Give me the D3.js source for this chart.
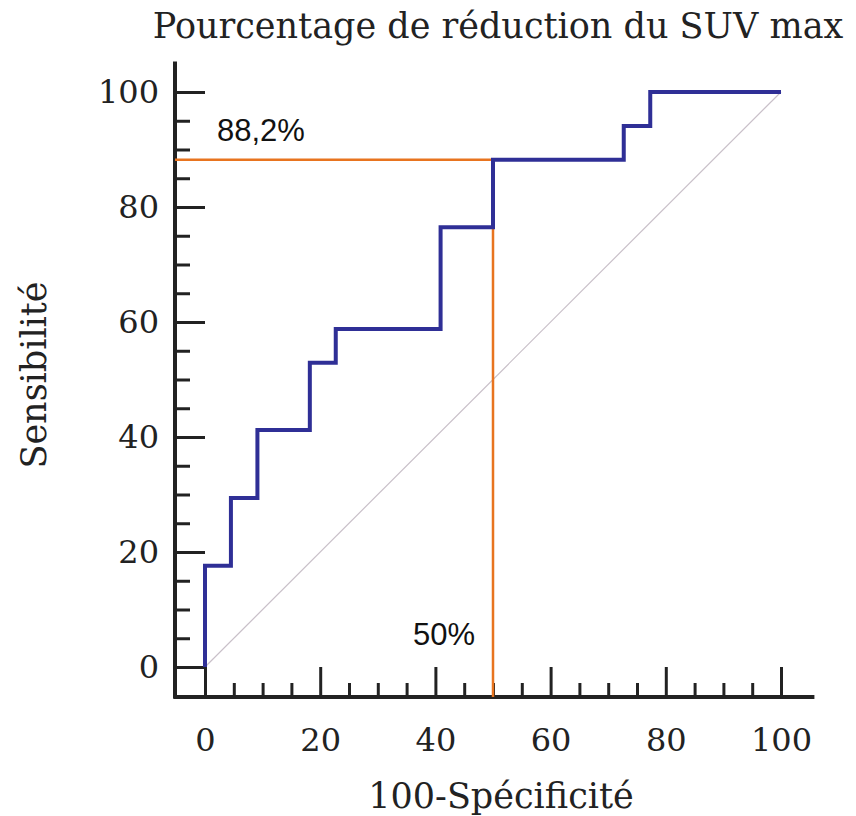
<!DOCTYPE html>
<html>
<head>
<meta charset="utf-8">
<script src="https://cdn.jsdelivr.net/npm/d3@7"></script>
<style>
  body { margin: 0; background: #fff; }
  .roc { fill: none; stroke: #2f2f96; stroke-width: 4px; stroke-linejoin: miter; }
  .diag { stroke: #c9c0c9; stroke-width: 1.2px; }
  .cut { stroke: #e8741f; stroke-width: 2.5px; fill: none; }
  .tick text { font-family: "DejaVu Serif", serif; font-size: 32px; fill: #222; }
  .tick line { stroke: #222; stroke-width: 3px; }
</style>
</head>
<body>
<script>
// points de la courbe ROC (100-spécificité, sensibilité)
var fpr  = [0, 0,    4.5,  4.5,  9.1,  9.1,  18.2, 18.2, 22.7, 22.7, 40.9, 40.9, 50,   50,   72.7, 72.7, 77.3, 77.3, 100];
var sens = [0, 17.6, 17.6, 29.4, 29.4, 41.2, 41.2, 52.9, 52.9, 58.8, 58.8, 76.5, 76.5, 88.2, 88.2, 94.1, 94.1, 100,  100];
var majorTicks = [0, 20, 40, 60, 80, 100];
var minorTicks = [5, 10, 15, 25, 30, 35, 45, 50, 55, 65, 70, 75, 85, 90, 95];
var cutX = 50, cutY = 88.2;
var labelSens = "88,2%", labelSpec = "50%";

var W = 856, H = 816;
var x = d3.scaleLinear().domain([0, 100]).range([205, 781]);
var y = d3.scaleLinear().domain([0, 100]).range([667, 92]);
var off = 30; // décalage des axes

var svg = d3.select("body").append("svg").attr("width", W).attr("height", H);

var axX = y(0) + off, axY = x(0) - off;

// diagonale
svg.append("line").attr("class", "diag")
  .attr("x1", x(0)).attr("y1", y(0)).attr("x2", x(100)).attr("y2", y(100));

// axe y
var gy = svg.append("g").attr("transform", "translate(" + axY + ",0)");
gy.call(d3.axisLeft(y).tickValues(minorTicks).tickSize(-15).tickFormat(""));
gy.call(function(g){ g.select(".domain").remove(); });
var gy2 = svg.append("g").attr("transform", "translate(" + axY + ",0)");
gy2.call(d3.axisLeft(y).tickValues(majorTicks).tickSize(-off).tickPadding(16));
gy2.select(".domain").remove();
gy2.selectAll(".tick text").attr("dy", "0.34em");

// axe x
var gx = svg.append("g").attr("transform", "translate(0," + axX + ")");
gx.call(d3.axisBottom(x).tickValues(minorTicks).tickSize(-14).tickFormat(""));
gx.select(".domain").remove();
var gx2 = svg.append("g").attr("transform", "translate(0," + axX + ")");
gx2.call(d3.axisBottom(x).tickValues(majorTicks).tickSize(-off));
gx2.select(".domain").remove();
gx2.selectAll(".tick text").attr("dy", "0").attr("y", 54);

// lignes des axes
svg.append("line").attr("x1", axY).attr("x2", axY).attr("y1", y(105.3)).attr("y2", axX + 1.5)
  .attr("stroke", "#222").attr("stroke-width", 4);
svg.append("line").attr("x1", axY - 1.5).attr("x2", x(105.8)).attr("y1", axX).attr("y2", axX)
  .attr("stroke", "#222").attr("stroke-width", 4);

// seuil
svg.append("path").attr("class", "cut")
  .attr("d", "M" + axY + "," + y(cutY) + "H" + x(cutX) + "V" + axX);

// courbe ROC
var line = d3.line().x(function(d, i){ return x(fpr[i]); }).y(function(d, i){ return y(sens[i]); });
svg.append("path").datum(fpr).attr("class", "roc").attr("d", line);

// annotations
svg.append("text").attr("x", 217).attr("y", y(cutY) - 19)
  .attr("font-family", "Liberation Sans, Arial, sans-serif").attr("font-size", 31).attr("fill", "#111")
  .text(labelSens);
svg.append("text").attr("x", x(cutX) - 18).attr("y", 645).attr("text-anchor", "end")
  .attr("font-family", "Liberation Sans, Arial, sans-serif").attr("font-size", 31).attr("fill", "#111")
  .text(labelSpec);

// titres
svg.append("text").attr("x", 498).attr("y", 38).attr("text-anchor", "middle")
  .attr("font-family", "DejaVu Serif, serif").attr("font-size", 35).attr("fill", "#222")
  .text("Pourcentage de réduction du SUV max");
svg.append("text").attr("x", 501).attr("y", 808).attr("text-anchor", "middle")
  .attr("font-family", "DejaVu Serif, serif").attr("font-size", 35).attr("fill", "#222")
  .text("100-Spécificité");
svg.append("text").attr("transform", "translate(46,375) rotate(-90)").attr("text-anchor", "middle")
  .attr("font-family", "DejaVu Serif, serif").attr("font-size", 35).attr("fill", "#222")
  .text("Sensibilité");
</script>
</body>
</html>
